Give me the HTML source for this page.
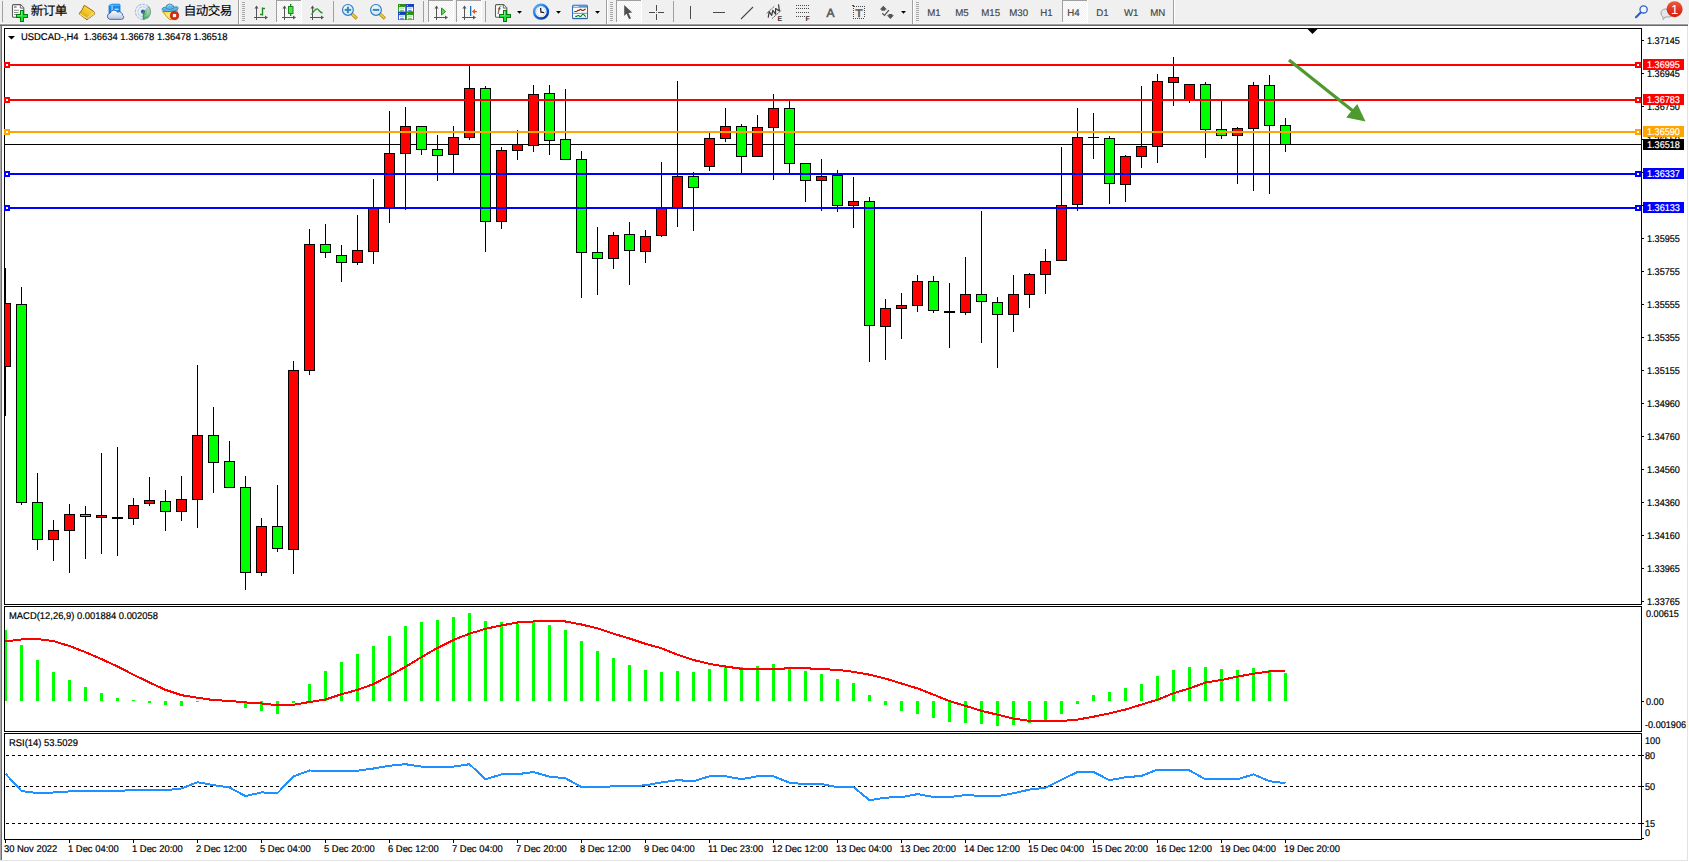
<!DOCTYPE html>
<html lang="zh-CN">
<head>
<meta charset="utf-8">
<title>USDCAD-,H4</title>
<style>
html,body{margin:0;padding:0;background:#fff;}
body{width:1689px;height:862px;overflow:hidden;}
svg{display:block;position:absolute;left:0;top:0;}
svg text{font-family:"Liberation Sans","Noto Sans CJK SC",sans-serif;white-space:pre;text-rendering:geometricPrecision;}
</style>
</head>
<body>
<svg width="1689" height="862" viewBox="0 0 1689 862">
<rect x="0" y="0" width="1689" height="862" fill="#fff"/>
<rect x="0" y="26" width="1" height="835" fill="#a9a9a9"/>
<rect x="1" y="26" width="1" height="835" fill="#6f6f6f"/>
<rect x="1687" y="26" width="1" height="835" fill="#e3e3e3"/>
<rect x="0" y="860" width="1688" height="1" fill="#e3e3e3"/>
<g fill="none" stroke="#000" stroke-width="1" shape-rendering="crispEdges">
<rect x="4.5" y="28.5" width="1637" height="576"/>
<rect x="4.5" y="606.5" width="1637" height="125"/>
<rect x="4.5" y="733.5" width="1637" height="106"/>
</g>
<g class="ax">
<rect x="1642" y="40" width="2" height="1" fill="#000"/>
<text transform="translate(1647,44) scale(0.93,1)" font-size="9.8" fill="#000" stroke="#000" stroke-width="0.2">1.37145</text>
<rect x="1642" y="73" width="2" height="1" fill="#000"/>
<text transform="translate(1647,77) scale(0.93,1)" font-size="9.8" fill="#000" stroke="#000" stroke-width="0.2">1.36945</text>
<rect x="1642" y="106" width="2" height="1" fill="#000"/>
<text transform="translate(1647,110) scale(0.93,1)" font-size="9.8" fill="#000" stroke="#000" stroke-width="0.2">1.36750</text>
<rect x="1642" y="139" width="2" height="1" fill="#000"/>
<text transform="translate(1647,143) scale(0.93,1)" font-size="9.8" fill="#000" stroke="#000" stroke-width="0.2">1.36550</text>
<rect x="1642" y="172" width="2" height="1" fill="#000"/>
<rect x="1642" y="205" width="2" height="1" fill="#000"/>
<rect x="1642" y="238" width="2" height="1" fill="#000"/>
<text transform="translate(1647,242) scale(0.93,1)" font-size="9.8" fill="#000" stroke="#000" stroke-width="0.2">1.35955</text>
<rect x="1642" y="271" width="2" height="1" fill="#000"/>
<text transform="translate(1647,275) scale(0.93,1)" font-size="9.8" fill="#000" stroke="#000" stroke-width="0.2">1.35755</text>
<rect x="1642" y="304" width="2" height="1" fill="#000"/>
<text transform="translate(1647,308) scale(0.93,1)" font-size="9.8" fill="#000" stroke="#000" stroke-width="0.2">1.35555</text>
<rect x="1642" y="337" width="2" height="1" fill="#000"/>
<text transform="translate(1647,341) scale(0.93,1)" font-size="9.8" fill="#000" stroke="#000" stroke-width="0.2">1.35355</text>
<rect x="1642" y="370" width="2" height="1" fill="#000"/>
<text transform="translate(1647,374) scale(0.93,1)" font-size="9.8" fill="#000" stroke="#000" stroke-width="0.2">1.35155</text>
<rect x="1642" y="403" width="2" height="1" fill="#000"/>
<text transform="translate(1647,407) scale(0.93,1)" font-size="9.8" fill="#000" stroke="#000" stroke-width="0.2">1.34960</text>
<rect x="1642" y="436" width="2" height="1" fill="#000"/>
<text transform="translate(1647,440) scale(0.93,1)" font-size="9.8" fill="#000" stroke="#000" stroke-width="0.2">1.34760</text>
<rect x="1642" y="469" width="2" height="1" fill="#000"/>
<text transform="translate(1647,473) scale(0.93,1)" font-size="9.8" fill="#000" stroke="#000" stroke-width="0.2">1.34560</text>
<rect x="1642" y="502" width="2" height="1" fill="#000"/>
<text transform="translate(1647,506) scale(0.93,1)" font-size="9.8" fill="#000" stroke="#000" stroke-width="0.2">1.34360</text>
<rect x="1642" y="535" width="2" height="1" fill="#000"/>
<text transform="translate(1647,539) scale(0.93,1)" font-size="9.8" fill="#000" stroke="#000" stroke-width="0.2">1.34160</text>
<rect x="1642" y="568" width="2" height="1" fill="#000"/>
<text transform="translate(1647,572) scale(0.93,1)" font-size="9.8" fill="#000" stroke="#000" stroke-width="0.2">1.33965</text>
<rect x="1642" y="601" width="2" height="1" fill="#000"/>
<text transform="translate(1647,605) scale(0.93,1)" font-size="9.8" fill="#000" stroke="#000" stroke-width="0.2">1.33765</text>
</g>
<rect x="5" y="144" width="1637" height="1" fill="#000"/>
<g shape-rendering="crispEdges">
<rect x="5" y="268" width="1" height="148" fill="#000"/>
<rect x="5" y="303" width="6" height="64" fill="#000"/>
<rect x="5" y="304" width="5" height="62" fill="#f00"/>
<rect x="21" y="287" width="1" height="218" fill="#000"/>
<rect x="16" y="304" width="11" height="199" fill="#000"/>
<rect x="17" y="305" width="9" height="197" fill="#0f0"/>
<rect x="37" y="473" width="1" height="77" fill="#000"/>
<rect x="32" y="502" width="11" height="38" fill="#000"/>
<rect x="33" y="503" width="9" height="36" fill="#0f0"/>
<rect x="53" y="520" width="1" height="41" fill="#000"/>
<rect x="48" y="530" width="11" height="10" fill="#000"/>
<rect x="49" y="531" width="9" height="8" fill="#f00"/>
<rect x="69" y="504" width="1" height="69" fill="#000"/>
<rect x="64" y="514" width="11" height="17" fill="#000"/>
<rect x="65" y="515" width="9" height="15" fill="#f00"/>
<rect x="85" y="506" width="1" height="53" fill="#000"/>
<rect x="80" y="514" width="11" height="3" fill="#000"/>
<rect x="81" y="515" width="9" height="1" fill="#0f0"/>
<rect x="101" y="453" width="1" height="101" fill="#000"/>
<rect x="96" y="515" width="11" height="3" fill="#000"/>
<rect x="97" y="516" width="9" height="1" fill="#f00"/>
<rect x="117" y="447" width="1" height="109" fill="#000"/>
<rect x="112" y="517" width="11" height="2" fill="#000"/>
<rect x="133" y="498" width="1" height="27" fill="#000"/>
<rect x="128" y="505" width="11" height="14" fill="#000"/>
<rect x="129" y="506" width="9" height="12" fill="#f00"/>
<rect x="149" y="477" width="1" height="29" fill="#000"/>
<rect x="144" y="500" width="11" height="4" fill="#000"/>
<rect x="145" y="501" width="9" height="2" fill="#f00"/>
<rect x="165" y="490" width="1" height="41" fill="#000"/>
<rect x="160" y="501" width="11" height="11" fill="#000"/>
<rect x="161" y="502" width="9" height="9" fill="#0f0"/>
<rect x="181" y="476" width="1" height="45" fill="#000"/>
<rect x="176" y="499" width="11" height="13" fill="#000"/>
<rect x="177" y="500" width="9" height="11" fill="#f00"/>
<rect x="197" y="365" width="1" height="163" fill="#000"/>
<rect x="192" y="435" width="11" height="65" fill="#000"/>
<rect x="193" y="436" width="9" height="63" fill="#f00"/>
<rect x="213" y="407" width="1" height="86" fill="#000"/>
<rect x="208" y="435" width="11" height="28" fill="#000"/>
<rect x="209" y="436" width="9" height="26" fill="#0f0"/>
<rect x="229" y="441" width="1" height="47" fill="#000"/>
<rect x="224" y="461" width="11" height="27" fill="#000"/>
<rect x="225" y="462" width="9" height="25" fill="#0f0"/>
<rect x="245" y="476" width="1" height="114" fill="#000"/>
<rect x="240" y="487" width="11" height="86" fill="#000"/>
<rect x="241" y="488" width="9" height="84" fill="#0f0"/>
<rect x="261" y="518" width="1" height="58" fill="#000"/>
<rect x="256" y="526" width="11" height="47" fill="#000"/>
<rect x="257" y="527" width="9" height="45" fill="#f00"/>
<rect x="277" y="485" width="1" height="67" fill="#000"/>
<rect x="272" y="526" width="11" height="23" fill="#000"/>
<rect x="273" y="527" width="9" height="21" fill="#0f0"/>
<rect x="293" y="361" width="1" height="213" fill="#000"/>
<rect x="288" y="370" width="11" height="180" fill="#000"/>
<rect x="289" y="371" width="9" height="178" fill="#f00"/>
<rect x="309" y="229" width="1" height="146" fill="#000"/>
<rect x="304" y="244" width="11" height="127" fill="#000"/>
<rect x="305" y="245" width="9" height="125" fill="#f00"/>
<rect x="325" y="224" width="1" height="34" fill="#000"/>
<rect x="320" y="244" width="11" height="9" fill="#000"/>
<rect x="321" y="245" width="9" height="7" fill="#0f0"/>
<rect x="341" y="245" width="1" height="37" fill="#000"/>
<rect x="336" y="255" width="11" height="8" fill="#000"/>
<rect x="337" y="256" width="9" height="6" fill="#0f0"/>
<rect x="357" y="215" width="1" height="50" fill="#000"/>
<rect x="352" y="250" width="11" height="13" fill="#000"/>
<rect x="353" y="251" width="9" height="11" fill="#f00"/>
<rect x="373" y="179" width="1" height="85" fill="#000"/>
<rect x="368" y="208" width="11" height="44" fill="#000"/>
<rect x="369" y="209" width="9" height="42" fill="#f00"/>
<rect x="389" y="111" width="1" height="112" fill="#000"/>
<rect x="384" y="153" width="11" height="55" fill="#000"/>
<rect x="385" y="154" width="9" height="53" fill="#f00"/>
<rect x="405" y="107" width="1" height="103" fill="#000"/>
<rect x="400" y="126" width="11" height="28" fill="#000"/>
<rect x="401" y="127" width="9" height="26" fill="#f00"/>
<rect x="421" y="126" width="1" height="29" fill="#000"/>
<rect x="416" y="126" width="11" height="24" fill="#000"/>
<rect x="417" y="127" width="9" height="22" fill="#0f0"/>
<rect x="437" y="135" width="1" height="46" fill="#000"/>
<rect x="432" y="149" width="11" height="7" fill="#000"/>
<rect x="433" y="150" width="9" height="5" fill="#0f0"/>
<rect x="453" y="126" width="1" height="47" fill="#000"/>
<rect x="448" y="137" width="11" height="18" fill="#000"/>
<rect x="449" y="138" width="9" height="16" fill="#f00"/>
<rect x="469" y="66" width="1" height="74" fill="#000"/>
<rect x="464" y="88" width="11" height="50" fill="#000"/>
<rect x="465" y="89" width="9" height="48" fill="#f00"/>
<rect x="485" y="86" width="1" height="166" fill="#000"/>
<rect x="480" y="88" width="11" height="134" fill="#000"/>
<rect x="481" y="89" width="9" height="132" fill="#0f0"/>
<rect x="501" y="147" width="1" height="82" fill="#000"/>
<rect x="496" y="150" width="11" height="72" fill="#000"/>
<rect x="497" y="151" width="9" height="70" fill="#f00"/>
<rect x="517" y="130" width="1" height="30" fill="#000"/>
<rect x="512" y="144" width="11" height="7" fill="#000"/>
<rect x="513" y="145" width="9" height="5" fill="#f00"/>
<rect x="533" y="85" width="1" height="67" fill="#000"/>
<rect x="528" y="94" width="11" height="52" fill="#000"/>
<rect x="529" y="95" width="9" height="50" fill="#f00"/>
<rect x="549" y="85" width="1" height="70" fill="#000"/>
<rect x="544" y="93" width="11" height="48" fill="#000"/>
<rect x="545" y="94" width="9" height="46" fill="#0f0"/>
<rect x="565" y="89" width="1" height="71" fill="#000"/>
<rect x="560" y="139" width="11" height="21" fill="#000"/>
<rect x="561" y="140" width="9" height="19" fill="#0f0"/>
<rect x="581" y="151" width="1" height="147" fill="#000"/>
<rect x="576" y="159" width="11" height="94" fill="#000"/>
<rect x="577" y="160" width="9" height="92" fill="#0f0"/>
<rect x="597" y="227" width="1" height="68" fill="#000"/>
<rect x="592" y="252" width="11" height="7" fill="#000"/>
<rect x="593" y="253" width="9" height="5" fill="#0f0"/>
<rect x="613" y="232" width="1" height="37" fill="#000"/>
<rect x="608" y="235" width="11" height="24" fill="#000"/>
<rect x="609" y="236" width="9" height="22" fill="#f00"/>
<rect x="629" y="222" width="1" height="63" fill="#000"/>
<rect x="624" y="234" width="11" height="17" fill="#000"/>
<rect x="625" y="235" width="9" height="15" fill="#0f0"/>
<rect x="645" y="230" width="1" height="33" fill="#000"/>
<rect x="640" y="236" width="11" height="16" fill="#000"/>
<rect x="641" y="237" width="9" height="14" fill="#f00"/>
<rect x="661" y="162" width="1" height="75" fill="#000"/>
<rect x="656" y="208" width="11" height="28" fill="#000"/>
<rect x="657" y="209" width="9" height="26" fill="#f00"/>
<rect x="677" y="81" width="1" height="146" fill="#000"/>
<rect x="672" y="176" width="11" height="32" fill="#000"/>
<rect x="673" y="177" width="9" height="30" fill="#f00"/>
<rect x="693" y="172" width="1" height="59" fill="#000"/>
<rect x="688" y="176" width="11" height="12" fill="#000"/>
<rect x="689" y="177" width="9" height="10" fill="#0f0"/>
<rect x="709" y="133" width="1" height="38" fill="#000"/>
<rect x="704" y="138" width="11" height="29" fill="#000"/>
<rect x="705" y="139" width="9" height="27" fill="#f00"/>
<rect x="725" y="108" width="1" height="34" fill="#000"/>
<rect x="720" y="126" width="11" height="13" fill="#000"/>
<rect x="721" y="127" width="9" height="11" fill="#f00"/>
<rect x="741" y="124" width="1" height="49" fill="#000"/>
<rect x="736" y="126" width="11" height="31" fill="#000"/>
<rect x="737" y="127" width="9" height="29" fill="#0f0"/>
<rect x="757" y="115" width="1" height="42" fill="#000"/>
<rect x="752" y="127" width="11" height="30" fill="#000"/>
<rect x="753" y="128" width="9" height="28" fill="#f00"/>
<rect x="773" y="94" width="1" height="86" fill="#000"/>
<rect x="768" y="108" width="11" height="20" fill="#000"/>
<rect x="769" y="109" width="9" height="18" fill="#f00"/>
<rect x="789" y="101" width="1" height="72" fill="#000"/>
<rect x="784" y="108" width="11" height="56" fill="#000"/>
<rect x="785" y="109" width="9" height="54" fill="#0f0"/>
<rect x="805" y="163" width="1" height="39" fill="#000"/>
<rect x="800" y="163" width="11" height="18" fill="#000"/>
<rect x="801" y="164" width="9" height="16" fill="#0f0"/>
<rect x="821" y="159" width="1" height="52" fill="#000"/>
<rect x="816" y="176" width="11" height="5" fill="#000"/>
<rect x="817" y="177" width="9" height="3" fill="#f00"/>
<rect x="837" y="170" width="1" height="42" fill="#000"/>
<rect x="832" y="175" width="11" height="31" fill="#000"/>
<rect x="833" y="176" width="9" height="29" fill="#0f0"/>
<rect x="853" y="177" width="1" height="51" fill="#000"/>
<rect x="848" y="201" width="11" height="5" fill="#000"/>
<rect x="849" y="202" width="9" height="3" fill="#f00"/>
<rect x="869" y="197" width="1" height="165" fill="#000"/>
<rect x="864" y="201" width="11" height="125" fill="#000"/>
<rect x="865" y="202" width="9" height="123" fill="#0f0"/>
<rect x="885" y="299" width="1" height="61" fill="#000"/>
<rect x="880" y="308" width="11" height="19" fill="#000"/>
<rect x="881" y="309" width="9" height="17" fill="#f00"/>
<rect x="901" y="293" width="1" height="46" fill="#000"/>
<rect x="896" y="305" width="11" height="4" fill="#000"/>
<rect x="897" y="306" width="9" height="2" fill="#f00"/>
<rect x="917" y="275" width="1" height="37" fill="#000"/>
<rect x="912" y="281" width="11" height="25" fill="#000"/>
<rect x="913" y="282" width="9" height="23" fill="#f00"/>
<rect x="933" y="276" width="1" height="37" fill="#000"/>
<rect x="928" y="281" width="11" height="30" fill="#000"/>
<rect x="929" y="282" width="9" height="28" fill="#0f0"/>
<rect x="949" y="283" width="1" height="65" fill="#000"/>
<rect x="944" y="311" width="11" height="2" fill="#000"/>
<rect x="965" y="257" width="1" height="58" fill="#000"/>
<rect x="960" y="294" width="11" height="19" fill="#000"/>
<rect x="961" y="295" width="9" height="17" fill="#f00"/>
<rect x="981" y="211" width="1" height="132" fill="#000"/>
<rect x="976" y="294" width="11" height="8" fill="#000"/>
<rect x="977" y="295" width="9" height="6" fill="#0f0"/>
<rect x="997" y="297" width="1" height="71" fill="#000"/>
<rect x="992" y="302" width="11" height="13" fill="#000"/>
<rect x="993" y="303" width="9" height="11" fill="#0f0"/>
<rect x="1013" y="275" width="1" height="57" fill="#000"/>
<rect x="1008" y="294" width="11" height="21" fill="#000"/>
<rect x="1009" y="295" width="9" height="19" fill="#f00"/>
<rect x="1029" y="273" width="1" height="35" fill="#000"/>
<rect x="1024" y="274" width="11" height="21" fill="#000"/>
<rect x="1025" y="275" width="9" height="19" fill="#f00"/>
<rect x="1045" y="249" width="1" height="45" fill="#000"/>
<rect x="1040" y="261" width="11" height="14" fill="#000"/>
<rect x="1041" y="262" width="9" height="12" fill="#f00"/>
<rect x="1061" y="147" width="1" height="114" fill="#000"/>
<rect x="1056" y="205" width="11" height="56" fill="#000"/>
<rect x="1057" y="206" width="9" height="54" fill="#f00"/>
<rect x="1077" y="108" width="1" height="103" fill="#000"/>
<rect x="1072" y="137" width="11" height="68" fill="#000"/>
<rect x="1073" y="138" width="9" height="66" fill="#f00"/>
<rect x="1093" y="113" width="1" height="46" fill="#000"/>
<rect x="1088" y="137" width="11" height="1" fill="#000"/>
<rect x="1109" y="136" width="1" height="68" fill="#000"/>
<rect x="1104" y="138" width="11" height="46" fill="#000"/>
<rect x="1105" y="139" width="9" height="44" fill="#0f0"/>
<rect x="1125" y="155" width="1" height="47" fill="#000"/>
<rect x="1120" y="156" width="11" height="29" fill="#000"/>
<rect x="1121" y="157" width="9" height="27" fill="#f00"/>
<rect x="1141" y="86" width="1" height="82" fill="#000"/>
<rect x="1136" y="146" width="11" height="11" fill="#000"/>
<rect x="1137" y="147" width="9" height="9" fill="#f00"/>
<rect x="1157" y="74" width="1" height="89" fill="#000"/>
<rect x="1152" y="81" width="11" height="66" fill="#000"/>
<rect x="1153" y="82" width="9" height="64" fill="#f00"/>
<rect x="1173" y="57" width="1" height="49" fill="#000"/>
<rect x="1168" y="77" width="11" height="6" fill="#000"/>
<rect x="1169" y="78" width="9" height="4" fill="#f00"/>
<rect x="1189" y="84" width="1" height="19" fill="#000"/>
<rect x="1184" y="84" width="11" height="16" fill="#000"/>
<rect x="1185" y="85" width="9" height="14" fill="#f00"/>
<rect x="1205" y="82" width="1" height="76" fill="#000"/>
<rect x="1200" y="84" width="11" height="46" fill="#000"/>
<rect x="1201" y="85" width="9" height="44" fill="#0f0"/>
<rect x="1221" y="101" width="1" height="38" fill="#000"/>
<rect x="1216" y="129" width="11" height="7" fill="#000"/>
<rect x="1217" y="130" width="9" height="5" fill="#0f0"/>
<rect x="1237" y="127" width="1" height="57" fill="#000"/>
<rect x="1232" y="128" width="11" height="8" fill="#000"/>
<rect x="1233" y="129" width="9" height="6" fill="#f00"/>
<rect x="1253" y="82" width="1" height="109" fill="#000"/>
<rect x="1248" y="85" width="11" height="44" fill="#000"/>
<rect x="1249" y="86" width="9" height="42" fill="#f00"/>
<rect x="1269" y="75" width="1" height="119" fill="#000"/>
<rect x="1264" y="85" width="11" height="41" fill="#000"/>
<rect x="1265" y="86" width="9" height="39" fill="#0f0"/>
<rect x="1285" y="118" width="1" height="34" fill="#000"/>
<rect x="1280" y="125" width="11" height="20" fill="#000"/>
<rect x="1281" y="126" width="9" height="18" fill="#0f0"/>
</g>
<g shape-rendering="crispEdges">
<rect x="5" y="64" width="1636" height="2" fill="#f00"/>
<rect x="4" y="62" width="6" height="6" fill="#f00"/>
<rect x="6" y="64" width="2" height="2" fill="#fff"/>
<rect x="1635" y="62" width="6" height="6" fill="#f00"/>
<rect x="1637" y="64" width="2" height="2" fill="#fff"/>
<rect x="5" y="99" width="1636" height="2" fill="#f00"/>
<rect x="4" y="97" width="6" height="6" fill="#f00"/>
<rect x="6" y="99" width="2" height="2" fill="#fff"/>
<rect x="1635" y="97" width="6" height="6" fill="#f00"/>
<rect x="1637" y="99" width="2" height="2" fill="#fff"/>
<rect x="5" y="131" width="1636" height="2" fill="#ffa500"/>
<rect x="4" y="129" width="6" height="6" fill="#ffa500"/>
<rect x="6" y="131" width="2" height="2" fill="#fff"/>
<rect x="1635" y="129" width="6" height="6" fill="#ffa500"/>
<rect x="1637" y="131" width="2" height="2" fill="#fff"/>
<rect x="5" y="173" width="1636" height="2" fill="#00f"/>
<rect x="4" y="171" width="6" height="6" fill="#00f"/>
<rect x="6" y="173" width="2" height="2" fill="#fff"/>
<rect x="1635" y="171" width="6" height="6" fill="#00f"/>
<rect x="1637" y="173" width="2" height="2" fill="#fff"/>
<rect x="5" y="207" width="1636" height="2" fill="#00f"/>
<rect x="4" y="205" width="6" height="6" fill="#00f"/>
<rect x="6" y="207" width="2" height="2" fill="#fff"/>
<rect x="1635" y="205" width="6" height="6" fill="#00f"/>
<rect x="1637" y="207" width="2" height="2" fill="#fff"/>
</g>
<rect x="1643" y="59" width="41" height="11" fill="#f00"/>
<text transform="translate(1647,68) scale(0.93,1)" font-size="9.8" fill="#fff" stroke="#fff" stroke-width="0.2">1.36995</text>
<rect x="1643" y="94" width="41" height="11" fill="#f00"/>
<text transform="translate(1647,103) scale(0.93,1)" font-size="9.8" fill="#fff" stroke="#fff" stroke-width="0.2">1.36783</text>
<rect x="1643" y="126" width="41" height="11" fill="#ffa500"/>
<text transform="translate(1647,135) scale(0.93,1)" font-size="9.8" fill="#fff" stroke="#fff" stroke-width="0.2">1.36590</text>
<rect x="1643" y="168" width="41" height="11" fill="#00f"/>
<text transform="translate(1647,177) scale(0.93,1)" font-size="9.8" fill="#fff" stroke="#fff" stroke-width="0.2">1.36337</text>
<rect x="1643" y="202" width="41" height="11" fill="#00f"/>
<text transform="translate(1647,211) scale(0.93,1)" font-size="9.8" fill="#fff" stroke="#fff" stroke-width="0.2">1.36133</text>
<rect x="1643" y="139" width="41" height="11" fill="#000"/>
<text transform="translate(1647,148) scale(0.93,1)" font-size="9.8" fill="#fff" stroke="#fff" stroke-width="0.2">1.36518</text>
<line x1="1289" y1="60" x2="1353" y2="111" stroke="#4e9a2e" stroke-width="3.2"/>
<polygon points="1357.2,104 1346.2,117.5 1365.5,121.5" fill="#4e9a2e"/>
<polygon points="8,36 15,36 11.5,39.6" fill="#000"/>
<text transform="translate(21,40) scale(0.96,1)" font-size="9.8" fill="#000" stroke="#000" stroke-width="0.2">USDCAD-,H4&#160;&#160;1.36634 1.36678 1.36478 1.36518</text>
<polygon points="1307.5,29 1317.5,29 1312.5,34" fill="#000"/>
<g shape-rendering="crispEdges" fill="#0f0">
<rect x="5" y="630" width="2" height="71"/>
<rect x="20" y="645" width="3" height="56"/>
<rect x="36" y="660" width="3" height="41"/>
<rect x="52" y="672" width="3" height="29"/>
<rect x="68" y="680" width="3" height="21"/>
<rect x="84" y="687" width="3" height="14"/>
<rect x="100" y="693" width="3" height="8"/>
<rect x="116" y="698" width="3" height="3"/>
<rect x="132" y="700" width="3" height="1"/>
<rect x="148" y="701" width="3" height="2"/>
<rect x="164" y="701" width="3" height="4"/>
<rect x="180" y="701" width="3" height="5"/>
<rect x="196" y="701" width="3" height="1"/>
<rect x="212" y="700" width="3" height="1"/>
<rect x="228" y="701" width="3" height="1"/>
<rect x="244" y="701" width="3" height="7"/>
<rect x="260" y="701" width="3" height="10"/>
<rect x="276" y="701" width="3" height="13"/>
<rect x="292" y="701" width="3" height="2"/>
<rect x="308" y="684" width="3" height="17"/>
<rect x="324" y="671" width="3" height="30"/>
<rect x="340" y="662" width="3" height="39"/>
<rect x="356" y="654" width="3" height="47"/>
<rect x="372" y="646" width="3" height="55"/>
<rect x="388" y="636" width="3" height="65"/>
<rect x="404" y="626" width="3" height="75"/>
<rect x="420" y="622" width="3" height="79"/>
<rect x="436" y="620" width="3" height="81"/>
<rect x="452" y="617" width="3" height="84"/>
<rect x="468" y="613" width="3" height="88"/>
<rect x="484" y="621" width="3" height="80"/>
<rect x="500" y="622" width="3" height="79"/>
<rect x="516" y="624" width="3" height="77"/>
<rect x="532" y="622" width="3" height="79"/>
<rect x="548" y="625" width="3" height="76"/>
<rect x="564" y="630" width="3" height="71"/>
<rect x="580" y="641" width="3" height="60"/>
<rect x="596" y="651" width="3" height="50"/>
<rect x="612" y="658" width="3" height="43"/>
<rect x="628" y="665" width="3" height="36"/>
<rect x="644" y="670" width="3" height="31"/>
<rect x="660" y="672" width="3" height="29"/>
<rect x="676" y="671" width="3" height="30"/>
<rect x="692" y="672" width="3" height="29"/>
<rect x="708" y="669" width="3" height="32"/>
<rect x="724" y="667" width="3" height="34"/>
<rect x="740" y="667" width="3" height="34"/>
<rect x="756" y="666" width="3" height="35"/>
<rect x="772" y="664" width="3" height="37"/>
<rect x="788" y="667" width="3" height="34"/>
<rect x="804" y="671" width="3" height="30"/>
<rect x="820" y="674" width="3" height="27"/>
<rect x="836" y="679" width="3" height="22"/>
<rect x="852" y="683" width="3" height="18"/>
<rect x="868" y="695" width="3" height="6"/>
<rect x="884" y="701" width="3" height="4"/>
<rect x="900" y="701" width="3" height="10"/>
<rect x="916" y="701" width="3" height="13"/>
<rect x="932" y="701" width="3" height="17"/>
<rect x="948" y="701" width="3" height="21"/>
<rect x="964" y="701" width="3" height="22"/>
<rect x="980" y="701" width="3" height="23"/>
<rect x="996" y="701" width="3" height="25"/>
<rect x="1012" y="701" width="3" height="24"/>
<rect x="1028" y="701" width="3" height="22"/>
<rect x="1044" y="701" width="3" height="19"/>
<rect x="1060" y="701" width="3" height="13"/>
<rect x="1076" y="701" width="3" height="3"/>
<rect x="1092" y="695" width="3" height="6"/>
<rect x="1108" y="692" width="3" height="9"/>
<rect x="1124" y="688" width="3" height="13"/>
<rect x="1140" y="684" width="3" height="17"/>
<rect x="1156" y="676" width="3" height="25"/>
<rect x="1172" y="670" width="3" height="31"/>
<rect x="1188" y="667" width="3" height="34"/>
<rect x="1204" y="667" width="3" height="34"/>
<rect x="1220" y="669" width="3" height="32"/>
<rect x="1236" y="670" width="3" height="31"/>
<rect x="1252" y="668" width="3" height="33"/>
<rect x="1268" y="670" width="3" height="31"/>
<rect x="1284" y="673" width="3" height="28"/>
</g>
<polyline points="5.5,641.5 21.5,639.5 37.5,639.1 53.5,641.1 69.5,646.0 85.5,652.2 101.5,659.1 117.5,666.5 133.5,674.7 149.5,682.5 165.5,689.9 181.5,695.2 197.5,697.7 213.5,700.1 229.5,700.9 245.5,702.4 261.5,703.4 277.5,705.2 293.5,704.8 309.5,702.0 325.5,699.5 341.5,694.2 357.5,689.9 373.5,684.1 389.5,675.7 405.5,666.9 421.5,657.1 437.5,647.9 453.5,639.9 469.5,633.7 485.5,628.8 501.5,625.4 517.5,622.5 533.5,621.5 549.5,621.1 565.5,621.5 581.5,624.5 597.5,628.4 613.5,633.7 629.5,638.5 645.5,643.8 661.5,648.3 677.5,654.8 693.5,660.0 709.5,663.9 725.5,666.5 741.5,668.8 757.5,669.2 773.5,669.2 789.5,668.2 805.5,668.2 821.5,669.2 837.5,669.8 853.5,671.8 869.5,674.7 885.5,678.6 901.5,683.5 917.5,688.4 933.5,694.6 949.5,701.1 965.5,705.9 981.5,710.8 997.5,714.7 1013.5,718.6 1029.5,720.8 1045.5,721.0 1061.5,721.0 1077.5,719.6 1093.5,716.7 1109.5,713.4 1125.5,709.5 1141.5,704.6 1157.5,699.7 1173.5,693.2 1189.5,688.4 1205.5,682.5 1221.5,680.0 1237.5,676.6 1253.5,673.7 1269.5,671.4 1285.5,671.2" fill="none" stroke="#f00" stroke-width="2" stroke-linejoin="round" shape-rendering="crispEdges"/>
<text transform="translate(9,619) scale(0.96,1)" font-size="9.8" fill="#000" stroke="#000" stroke-width="0.2">MACD(12,26,9) 0.001884 0.002058</text>
<text transform="translate(1646,617) scale(0.93,1)" font-size="9.8" fill="#000" stroke="#000" stroke-width="0.2">0.00615</text>
<rect x="1642" y="701" width="2" height="1" fill="#000"/>
<text transform="translate(1646,705) scale(0.93,1)" font-size="9.8" fill="#000" stroke="#000" stroke-width="0.2">0.00</text>
<text transform="translate(1645,728) scale(0.93,1)" font-size="9.8" fill="#000" stroke="#000" stroke-width="0.2">-0.001906</text>
<g shape-rendering="crispEdges" stroke="#000" stroke-width="1" stroke-dasharray="3 3">
<line x1="6" y1="755.5" x2="1641" y2="755.5"/>
<line x1="6" y1="786.5" x2="1641" y2="786.5"/>
<line x1="6" y1="823.5" x2="1641" y2="823.5"/>
</g>
<polyline points="5.5,773.8 21.5,791.0 37.5,793.1 53.5,792.5 69.5,791.4 85.5,791.4 101.5,791.4 117.5,791.4 133.5,789.6 149.5,789.8 165.5,790.2 181.5,788.4 197.5,782.2 213.5,785.1 229.5,787.5 245.5,796.1 261.5,792.4 277.5,793.1 293.5,776.3 309.5,770.5 325.5,770.7 341.5,771.1 357.5,770.7 373.5,768.5 389.5,765.8 405.5,764.2 421.5,766.6 437.5,767.0 453.5,766.6 469.5,764.2 485.5,779.3 501.5,774.4 517.5,774.2 533.5,772.0 549.5,776.7 565.5,778.3 581.5,787.1 597.5,787.3 613.5,786.3 629.5,786.3 645.5,785.3 661.5,782.4 677.5,780.2 693.5,781.2 709.5,776.3 725.5,776.3 741.5,779.1 757.5,776.3 773.5,776.3 789.5,782.8 805.5,784.1 821.5,784.1 837.5,787.1 853.5,787.1 869.5,800.2 885.5,797.6 901.5,797.2 917.5,794.1 933.5,797.0 949.5,797.0 965.5,795.1 981.5,795.9 997.5,796.1 1013.5,793.3 1029.5,789.6 1045.5,787.7 1061.5,779.7 1077.5,772.0 1093.5,772.0 1109.5,780.2 1125.5,777.3 1141.5,775.9 1157.5,769.5 1173.5,769.5 1189.5,770.5 1205.5,779.3 1221.5,779.3 1237.5,779.3 1253.5,774.4 1269.5,781.2 1285.5,783.2" fill="none" stroke="#1e90ff" stroke-width="2" stroke-linejoin="round" shape-rendering="crispEdges"/>
<text transform="translate(9,746) scale(0.96,1)" font-size="9.8" fill="#000" stroke="#000" stroke-width="0.2">RSI(14) 53.5029</text>
<text transform="translate(1645,744) scale(0.93,1)" font-size="9.8" fill="#000" stroke="#000" stroke-width="0.2">100</text>
<text transform="translate(1645,759) scale(0.93,1)" font-size="9.8" fill="#000" stroke="#000" stroke-width="0.2">80</text>
<text transform="translate(1645,790) scale(0.93,1)" font-size="9.8" fill="#000" stroke="#000" stroke-width="0.2">50</text>
<text transform="translate(1645,827) scale(0.93,1)" font-size="9.8" fill="#000" stroke="#000" stroke-width="0.2">15</text>
<text transform="translate(1645,836) scale(0.93,1)" font-size="9.8" fill="#000" stroke="#000" stroke-width="0.2">0</text>
<rect x="1642" y="755" width="2" height="1" fill="#000"/>
<rect x="1642" y="786" width="2" height="1" fill="#000"/>
<rect x="1642" y="823" width="2" height="1" fill="#000"/>
<rect x="1642" y="838" width="2" height="1" fill="#000"/>
<rect x="5" y="840" width="1" height="3" fill="#000"/>
<text transform="translate(4,852) scale(0.96,1)" font-size="9.8" fill="#000" stroke="#000" stroke-width="0.2">30 Nov 2022</text>
<rect x="69" y="840" width="1" height="3" fill="#000"/>
<text transform="translate(68,852) scale(0.96,1)" font-size="9.8" fill="#000" stroke="#000" stroke-width="0.2">1 Dec 04:00</text>
<rect x="133" y="840" width="1" height="3" fill="#000"/>
<text transform="translate(132,852) scale(0.96,1)" font-size="9.8" fill="#000" stroke="#000" stroke-width="0.2">1 Dec 20:00</text>
<rect x="197" y="840" width="1" height="3" fill="#000"/>
<text transform="translate(196,852) scale(0.96,1)" font-size="9.8" fill="#000" stroke="#000" stroke-width="0.2">2 Dec 12:00</text>
<rect x="261" y="840" width="1" height="3" fill="#000"/>
<text transform="translate(260,852) scale(0.96,1)" font-size="9.8" fill="#000" stroke="#000" stroke-width="0.2">5 Dec 04:00</text>
<rect x="325" y="840" width="1" height="3" fill="#000"/>
<text transform="translate(324,852) scale(0.96,1)" font-size="9.8" fill="#000" stroke="#000" stroke-width="0.2">5 Dec 20:00</text>
<rect x="389" y="840" width="1" height="3" fill="#000"/>
<text transform="translate(388,852) scale(0.96,1)" font-size="9.8" fill="#000" stroke="#000" stroke-width="0.2">6 Dec 12:00</text>
<rect x="453" y="840" width="1" height="3" fill="#000"/>
<text transform="translate(452,852) scale(0.96,1)" font-size="9.8" fill="#000" stroke="#000" stroke-width="0.2">7 Dec 04:00</text>
<rect x="517" y="840" width="1" height="3" fill="#000"/>
<text transform="translate(516,852) scale(0.96,1)" font-size="9.8" fill="#000" stroke="#000" stroke-width="0.2">7 Dec 20:00</text>
<rect x="581" y="840" width="1" height="3" fill="#000"/>
<text transform="translate(580,852) scale(0.96,1)" font-size="9.8" fill="#000" stroke="#000" stroke-width="0.2">8 Dec 12:00</text>
<rect x="645" y="840" width="1" height="3" fill="#000"/>
<text transform="translate(644,852) scale(0.96,1)" font-size="9.8" fill="#000" stroke="#000" stroke-width="0.2">9 Dec 04:00</text>
<rect x="709" y="840" width="1" height="3" fill="#000"/>
<text transform="translate(708,852) scale(0.96,1)" font-size="9.8" fill="#000" stroke="#000" stroke-width="0.2">11 Dec 23:00</text>
<rect x="773" y="840" width="1" height="3" fill="#000"/>
<text transform="translate(772,852) scale(0.96,1)" font-size="9.8" fill="#000" stroke="#000" stroke-width="0.2">12 Dec 12:00</text>
<rect x="837" y="840" width="1" height="3" fill="#000"/>
<text transform="translate(836,852) scale(0.96,1)" font-size="9.8" fill="#000" stroke="#000" stroke-width="0.2">13 Dec 04:00</text>
<rect x="901" y="840" width="1" height="3" fill="#000"/>
<text transform="translate(900,852) scale(0.96,1)" font-size="9.8" fill="#000" stroke="#000" stroke-width="0.2">13 Dec 20:00</text>
<rect x="965" y="840" width="1" height="3" fill="#000"/>
<text transform="translate(964,852) scale(0.96,1)" font-size="9.8" fill="#000" stroke="#000" stroke-width="0.2">14 Dec 12:00</text>
<rect x="1029" y="840" width="1" height="3" fill="#000"/>
<text transform="translate(1028,852) scale(0.96,1)" font-size="9.8" fill="#000" stroke="#000" stroke-width="0.2">15 Dec 04:00</text>
<rect x="1093" y="840" width="1" height="3" fill="#000"/>
<text transform="translate(1092,852) scale(0.96,1)" font-size="9.8" fill="#000" stroke="#000" stroke-width="0.2">15 Dec 20:00</text>
<rect x="1157" y="840" width="1" height="3" fill="#000"/>
<text transform="translate(1156,852) scale(0.96,1)" font-size="9.8" fill="#000" stroke="#000" stroke-width="0.2">16 Dec 12:00</text>
<rect x="1221" y="840" width="1" height="3" fill="#000"/>
<text transform="translate(1220,852) scale(0.96,1)" font-size="9.8" fill="#000" stroke="#000" stroke-width="0.2">19 Dec 04:00</text>
<rect x="1285" y="840" width="1" height="3" fill="#000"/>
<text transform="translate(1284,852) scale(0.96,1)" font-size="9.8" fill="#000" stroke="#000" stroke-width="0.2">19 Dec 20:00</text>
<g id="toolbar">
<defs><pattern id="chk" x="0" y="0" width="2" height="2" patternUnits="userSpaceOnUse"><rect width="2" height="2" fill="#f0f0f0"/><rect x="0" y="0" width="1" height="1" fill="#fff"/><rect x="1" y="1" width="1" height="1" fill="#fff"/></pattern></defs>
<rect x="0" y="0" width="1689" height="24" fill="#f0f0f0"/>
<rect x="0" y="23" width="1688" height="1" fill="#f6f6f6"/>
<rect x="0" y="24" width="1688" height="1" fill="#a0a0a0"/>
<rect x="0" y="25" width="1688" height="1" fill="#696969"/>
<rect x="2" y="1" width="1" height="21" fill="#a0a0a0"/>
<path d="M13.5,4.6 h7 l3.3,3.3 v8.3 a1,1 0 0 1 -1,1 h-9.3 a1,1 0 0 1 -1,-1 v-10.6 a1,1 0 0 1 1,-1 z" fill="#fff" stroke="#5c5c5c" stroke-width="1.1"/>
<path d="M20.3,4.8 v3.3 h3.3" fill="#ededed" stroke="#5c5c5c" stroke-width=".9"/>
<rect x="14" y="6.2" width="2.6" height="1.6" fill="#8c8c8c"/>
<g fill="#8a8a8a"><rect x="14" y="9.8" width="5" height="1"/><rect x="14" y="12" width="4.4" height="1"/><rect x="14" y="14" width="2.5" height="1"/></g>
<path d="M20,10 h4 v4 h4 v4 h-4 v4 h-4 v-4 h-4 v-4 h4 z" fill="#087a0c"/>
<path d="M21,11 h2 v4 h4 v2 h-4 v4 h-2 v-4 h-4 v-2 h4 z" fill="#1fe03c"/>
<path d="M21,11 h1 v4.6 h-5 v-.6 h4 z" fill="#8af5a0" opacity=".85"/>
<text x="30.8" y="15.3" font-size="12.6" letter-spacing="-.6" fill="#000" stroke="#000" stroke-width=".15">新订单</text>
<defs><linearGradient id="gold" x1="0.2" y1="1" x2="0.75" y2="0"><stop offset="0" stop-color="#c98a12"/><stop offset=".45" stop-color="#f0c21c"/><stop offset="1" stop-color="#f8e060"/></linearGradient><linearGradient id="cloud" x1="0" y1="0" x2="0" y2="1"><stop offset="0" stop-color="#ffffff"/><stop offset="1" stop-color="#b8c6de"/></linearGradient><linearGradient id="sweep" x1="0.1" y1="1" x2="0.9" y2="0"><stop offset="0" stop-color="#1f9a1f" stop-opacity="1"/><stop offset="1" stop-color="#a8d8a8" stop-opacity=".5"/></linearGradient><linearGradient id="funnel" x1="0" y1="0" x2="1" y2="1"><stop offset="0" stop-color="#f2c62a"/><stop offset=".5" stop-color="#fdf08a"/><stop offset="1" stop-color="#e8b418"/></linearGradient></defs>
<path d="M79.1,13.7 Q82.6,10 84.3,5.2 L93.7,11.4 L94.8,13.9 L86.9,19.8 Z" fill="url(#gold)" stroke="#a06a10" stroke-width="1" stroke-linejoin="round"/>
<path d="M80.2,14 L87,18.4" stroke="#f6e4a0" stroke-width="1.1" fill="none"/>
<path d="M93.9,12.3 L87.2,17.6 M94.4,13.6 L87.4,18.9" stroke="#efe3b0" stroke-width=".8" fill="none"/>
<path d="M109,5.4 L112,4.2 H119.6 L120,5 V13 H109 Z" fill="#0f8ef2" stroke="#0a74d8" stroke-width=".8"/>
<path d="M112.1,5.4 V13" stroke="#d8efff" stroke-width=".9"/>
<path d="M109.3,5.5 L112.1,5.2 H119.8" stroke="#7cc4fa" stroke-width=".8" fill="none"/>
<rect x="114.6" y="8.7" width="4" height="1.1" fill="#e8f6ff"/>
<path d="M109.8,19.3 a3.1,3.1 0 0 1 .4,-6.1 a4,4 0 0 1 7.4,-1 a3.3,3.3 0 0 1 4.9,3.1 a2.1,2.1 0 0 1 -.9,4 z" fill="url(#cloud)" stroke="#4a68a8" stroke-width="1" stroke-linejoin="round"/>
<path d="M142.9,11.7 L143.3,19.7 A8,8 0 0 0 148.5,5.999999999999999 Z" fill="url(#sweep)"/>
<g fill="none"><circle cx="142.9" cy="11.7" r="7.5" stroke="#8fb0e4" stroke-width="1.1" stroke-dasharray="3 .8" opacity=".75"/><circle cx="142.9" cy="11.7" r="4.9" stroke="#a5c0ea" stroke-width="1.1" stroke-dasharray="3 .7" opacity=".75"/><path d="M148.20000000000002,6.3999999999999995 A7.5,7.5 0 0 1 145.9,18.6" stroke="#5f9f7f" stroke-width="1.1" opacity=".7"/></g>
<circle cx="142.9" cy="11.7" r="2.1" fill="#2a5fd0"/>
<rect x="142.8" y="12.0" width="1.4" height="7.6" fill="#22a822"/>
<path d="M162.3,11.5 L177.7,10.8 L171.6,19.6 L169.4,19.6 Z" fill="url(#funnel)" stroke="#c89a18" stroke-width="1" stroke-linejoin="round"/>
<path d="M162.2,9.6 C162,6.6 166,7.6 166,7.2 C166.4,3.2 173.2,3.2 173.6,7 C174,7.6 178.2,5.6 178,8.4 C177.6,12.2 162.6,12.6 162.2,9.6 Z" fill="#62b4e4" stroke="#2a82b4" stroke-width="1"/>
<path d="M167.4,6.6 Q169,4.6 171.4,5.2" stroke="#a8dcf6" stroke-width="1" fill="none"/>
<path d="M165.6,8.4 Q169.8,10.6 174,8.2" stroke="#2a86b8" stroke-width=".8" fill="none"/>
<circle cx="174.5" cy="15.6" r="4.1" fill="#e02a10" stroke="#b41a08" stroke-width=".8"/>
<rect x="172.9" y="14" width="3.2" height="3.1" fill="#fff"/>
<text x="183.8" y="15.3" font-size="12.6" letter-spacing="-.6" fill="#000" stroke="#000" stroke-width=".15">自动交易</text>
<rect x="238" y="0" width="1" height="24" fill="#a0a0a0"/><rect x="239" y="0" width="1" height="24" fill="#fff"/>
<rect x="242" y="2" width="3" height="1" fill="#a8a8a8"/>
<rect x="242" y="4" width="3" height="1" fill="#a8a8a8"/>
<rect x="242" y="6" width="3" height="1" fill="#a8a8a8"/>
<rect x="242" y="8" width="3" height="1" fill="#a8a8a8"/>
<rect x="242" y="10" width="3" height="1" fill="#a8a8a8"/>
<rect x="242" y="12" width="3" height="1" fill="#a8a8a8"/>
<rect x="242" y="14" width="3" height="1" fill="#a8a8a8"/>
<rect x="242" y="16" width="3" height="1" fill="#a8a8a8"/>
<rect x="242" y="18" width="3" height="1" fill="#a8a8a8"/>
<rect x="242" y="20" width="3" height="1" fill="#a8a8a8"/>
<g stroke="#555" stroke-width="1" fill="none" shape-rendering="crispEdges"><line x1="256.5" y1="6" x2="256.5" y2="20"/><line x1="254" y1="17.5" x2="267" y2="17.5"/></g>
<polygon points="254.5,8.5 256.5,5.5 258.5,8.5" fill="#555"/>
<polygon points="265,15.5 268,17.5 265,19.5" fill="#555"/>
<g stroke="#1f8a1f" stroke-width="1.4" fill="none"><path d="M262.5,7.5 v8"/><path d="M262.5,8.5 h2.5"/><path d="M260,14.5 h2.5"/></g>
<rect x="277" y="1" width="24" height="21" fill="url(#chk)"/>
<rect x="276" y="0" width="25" height="1" fill="#a0a0a0"/>
<rect x="276" y="0" width="1" height="22" fill="#a0a0a0"/>
<rect x="301" y="0" width="1" height="23" fill="#fff"/>
<rect x="275" y="22" width="27" height="1" fill="#fff"/>
<g stroke="#555" stroke-width="1" fill="none" shape-rendering="crispEdges"><line x1="284.5" y1="6" x2="284.5" y2="20"/><line x1="282" y1="17.5" x2="295" y2="17.5"/></g>
<polygon points="282.5,8.5 284.5,5.5 286.5,8.5" fill="#555"/>
<polygon points="293,15.5 296,17.5 293,19.5" fill="#555"/>
<rect x="290" y="4" width="1.4" height="12" fill="#1f8a1f"/>
<rect x="288.5" y="6.5" width="4.5" height="7" fill="#4fe04f" stroke="#1f8a1f" stroke-width="1"/>
<g stroke="#555" stroke-width="1" fill="none" shape-rendering="crispEdges"><line x1="312.5" y1="6" x2="312.5" y2="20"/><line x1="310" y1="17.5" x2="323" y2="17.5"/></g>
<polygon points="310.5,8.5 312.5,5.5 314.5,8.5" fill="#555"/>
<polygon points="321,15.5 324,17.5 321,19.5" fill="#555"/>
<path d="M311.5,14.5 q5,-8 7,-4.5 q2,2.5 4,3" stroke="#2a962a" stroke-width="1.3" fill="none"/>
<rect x="333" y="1" width="1" height="21" fill="#a0a0a0"/>
<line x1="351.5" y1="13.6" x2="356.79999999999995" y2="18.6" stroke="#b08410" stroke-width="3.2"/>
<line x1="351.9" y1="13.9" x2="356.5" y2="18.2" stroke="#f0d648" stroke-width="1.5"/>
<circle cx="347.9" cy="9.9" r="5.4" fill="#d6eefb" stroke="#2f7cc6" stroke-width="1.2"/>
<circle cx="346.9" cy="8.6" r="3.2" fill="#eef9ff" opacity=".7"/>
<rect x="344.7" y="8.9" width="6.4" height="2" fill="#3a86b2"/>
<rect x="346.9" y="6.7" width="2" height="6.4" fill="#3a86b2"/>
<line x1="379.6" y1="13.6" x2="384.9" y2="18.6" stroke="#b08410" stroke-width="3.2"/>
<line x1="380" y1="13.9" x2="384.6" y2="18.2" stroke="#f0d648" stroke-width="1.5"/>
<circle cx="376" cy="9.9" r="5.4" fill="#d6eefb" stroke="#2f7cc6" stroke-width="1.2"/>
<circle cx="375" cy="8.6" r="3.2" fill="#eef9ff" opacity=".7"/>
<rect x="372.8" y="8.9" width="6.4" height="2" fill="#3a86b2"/>
<rect x="398" y="4" width="8" height="8" fill="#3aa42a"/>
<rect x="398" y="4" width="8" height="2.4" fill="#2a8c1c"/>
<rect x="399" y="4.9" width="1" height="1" fill="#a6e09a"/>
<rect x="399" y="7.2" width="6" height="4.2" fill="#fff"/>
<rect x="400.2" y="10.3" width="3.6" height="1.2" fill="#3aa42a"/>
<rect x="400" y="8.2" width="4" height="1" fill="#a6e09a"/>
<rect x="406" y="4" width="8" height="8" fill="#2a5cda"/>
<rect x="406" y="4" width="8" height="2.4" fill="#163fb8"/>
<rect x="407" y="4.9" width="1" height="1" fill="#a8bcf4"/>
<rect x="407" y="7.2" width="6" height="4.2" fill="#fff"/>
<rect x="408.2" y="10.3" width="3.6" height="1.2" fill="#2a5cda"/>
<rect x="408" y="8.2" width="4" height="1" fill="#a8bcf4"/>
<rect x="398" y="12" width="8" height="8" fill="#2a5cda"/>
<rect x="398" y="12" width="8" height="2.4" fill="#163fb8"/>
<rect x="399" y="12.9" width="1" height="1" fill="#a8bcf4"/>
<rect x="399" y="15.2" width="6" height="4.2" fill="#fff"/>
<rect x="400.2" y="18.3" width="3.6" height="1.2" fill="#2a5cda"/>
<rect x="400" y="16.2" width="4" height="1" fill="#a8bcf4"/>
<rect x="406" y="12" width="8" height="8" fill="#3aa42a"/>
<rect x="406" y="12" width="8" height="2.4" fill="#2a8c1c"/>
<rect x="407" y="12.9" width="1" height="1" fill="#a6e09a"/>
<rect x="407" y="15.2" width="6" height="4.2" fill="#fff"/>
<rect x="408.2" y="18.3" width="3.6" height="1.2" fill="#3aa42a"/>
<rect x="408" y="16.2" width="4" height="1" fill="#a6e09a"/>
<rect x="423" y="1" width="1" height="21" fill="#a0a0a0"/>
<rect x="429" y="1" width="24" height="21" fill="url(#chk)"/>
<rect x="428" y="0" width="25" height="1" fill="#a0a0a0"/>
<rect x="428" y="0" width="1" height="22" fill="#a0a0a0"/>
<rect x="453" y="0" width="1" height="23" fill="#fff"/>
<rect x="427" y="22" width="27" height="1" fill="#fff"/>
<g stroke="#555" stroke-width="1" fill="none" shape-rendering="crispEdges"><line x1="436.5" y1="6" x2="436.5" y2="20"/><line x1="434" y1="17.5" x2="447" y2="17.5"/></g>
<polygon points="434.5,8.5 436.5,5.5 438.5,8.5" fill="#555"/>
<polygon points="445,15.5 448,17.5 445,19.5" fill="#555"/>
<polygon points="441.5,8 445.5,11.5 441.5,15" fill="#5fdc5f" stroke="#1f8a1f" stroke-width="1"/>
<rect x="457" y="1" width="24" height="21" fill="url(#chk)"/>
<rect x="456" y="0" width="25" height="1" fill="#a0a0a0"/>
<rect x="456" y="0" width="1" height="22" fill="#a0a0a0"/>
<rect x="481" y="0" width="1" height="23" fill="#fff"/>
<rect x="455" y="22" width="27" height="1" fill="#fff"/>
<g stroke="#555" stroke-width="1" fill="none" shape-rendering="crispEdges"><line x1="464.5" y1="6" x2="464.5" y2="20"/><line x1="462" y1="17.5" x2="475" y2="17.5"/></g>
<polygon points="462.5,8.5 464.5,5.5 466.5,8.5" fill="#555"/>
<polygon points="473,15.5 476,17.5 473,19.5" fill="#555"/>
<rect x="470" y="6" width="1.3" height="10" fill="#1d6fb0"/>
<polygon points="471.8,11.5 475,9 475,14" fill="#e05a10"/>
<rect x="474" y="11" width="3" height="1.2" fill="#e05a10"/>
<rect x="485" y="1" width="1" height="21" fill="#a0a0a0"/>
<path d="M496.5,4.6 h7 l3.3,3.3 v8.3 a1,1 0 0 1 -1,1 h-9.3 a1,1 0 0 1 -1,-1 v-10.6 a1,1 0 0 1 1,-1 z" fill="#fff" stroke="#5c5c5c" stroke-width="1.1"/>
<path d="M503.3,4.8 v3.3 h3.3" fill="#ededed" stroke="#5c5c5c" stroke-width=".9"/>
<text x="497.2" y="14.2" font-size="10.5" font-style="italic" font-family="Liberation Serif,serif" fill="#4a3a1a">f</text>
<path d="M503,10 h4 v4 h4 v4 h-4 v4 h-4 v-4 h-4 v-4 h4 z" fill="#087a0c"/>
<path d="M504,11 h2 v4 h4 v2 h-4 v4 h-2 v-4 h-4 v-2 h4 z" fill="#1fe03c"/>
<path d="M504,11 h1 v4.6 h-5 v-.6 h4 z" fill="#8af5a0" opacity=".85"/>
<polygon points="517,11 522,11 519.5,13.8" fill="#000" stroke="#fff" stroke-width=".6" paint-order="stroke"/>
<defs><linearGradient id="clk" x1="0.15" y1="0.1" x2="0.85" y2="0.95"><stop offset="0" stop-color="#49a6f6"/><stop offset=".5" stop-color="#1670d8"/><stop offset="1" stop-color="#083a96"/></linearGradient></defs>
<circle cx="541" cy="11.7" r="6.9" fill="#f6f9fe" stroke="url(#clk)" stroke-width="2.5"/>
<circle cx="541.00" cy="7.20" r=".45" fill="#8a8a8a"/>
<circle cx="543.25" cy="7.80" r=".45" fill="#8a8a8a"/>
<circle cx="544.90" cy="9.45" r=".45" fill="#8a8a8a"/>
<circle cx="545.50" cy="11.70" r=".45" fill="#8a8a8a"/>
<circle cx="544.90" cy="13.95" r=".45" fill="#8a8a8a"/>
<circle cx="543.25" cy="15.60" r=".45" fill="#8a8a8a"/>
<circle cx="541.00" cy="16.20" r=".45" fill="#8a8a8a"/>
<circle cx="538.75" cy="15.60" r=".45" fill="#8a8a8a"/>
<circle cx="537.10" cy="13.95" r=".45" fill="#8a8a8a"/>
<circle cx="536.50" cy="11.70" r=".45" fill="#8a8a8a"/>
<circle cx="537.10" cy="9.45" r=".45" fill="#8a8a8a"/>
<circle cx="538.75" cy="7.80" r=".45" fill="#8a8a8a"/>
<path d="M540.6,8 L541,12.2 L544.2,12.6" stroke="#1a1a1a" stroke-width="1.3" fill="none" stroke-linejoin="round"/>
<polygon points="556,11 561,11 558.5,13.8" fill="#000" stroke="#fff" stroke-width=".6" paint-order="stroke"/>
<defs><linearGradient id="tplh" x1="0" y1="0" x2="0" y2="1"><stop offset="0" stop-color="#3a78c6"/><stop offset="1" stop-color="#9cc4f4"/></linearGradient></defs>
<rect x="572.5" y="5.2" width="15" height="13.4" rx=".8" fill="#fff" stroke="#2f6cba" stroke-width="1"/>
<rect x="573" y="5.7" width="14" height="2.3" fill="url(#tplh)"/>
<rect x="573.6" y="6.2" width="5" height=".8" fill="#e8f4ff"/>
<rect x="573" y="12.8" width="14" height=".9" fill="#4a82c8"/>
<rect x="572.4" y="17.8" width="15.2" height="1.3" fill="#2a62b0"/>
<polyline points="574.2,11.5 576.7,11.5 577.7,10.4 579.2,10.4 580.2,9.3 580.9,9.3 581.9,10.4 583.7,10.4 584.6,9.3 585.9,9.3" stroke="#9a2a08" stroke-width="1.1" fill="none"/>
<polyline points="575.2,16.4 576.7,16.4 577.7,15.5 578.7,15.5 579.7,16.4 580.9,16.4 581.9,15.2 582.7,14.4 583.7,14.4 584.6,15.5 585.9,16.7" stroke="#0a8a2a" stroke-width="1.1" fill="none"/>
<polygon points="595,11 600,11 597.5,13.8" fill="#000" stroke="#fff" stroke-width=".6" paint-order="stroke"/>
<rect x="606" y="0" width="1" height="24" fill="#a0a0a0"/><rect x="607" y="0" width="1" height="24" fill="#fff"/>
<rect x="610" y="2" width="3" height="1" fill="#a8a8a8"/>
<rect x="610" y="4" width="3" height="1" fill="#a8a8a8"/>
<rect x="610" y="6" width="3" height="1" fill="#a8a8a8"/>
<rect x="610" y="8" width="3" height="1" fill="#a8a8a8"/>
<rect x="610" y="10" width="3" height="1" fill="#a8a8a8"/>
<rect x="610" y="12" width="3" height="1" fill="#a8a8a8"/>
<rect x="610" y="14" width="3" height="1" fill="#a8a8a8"/>
<rect x="610" y="16" width="3" height="1" fill="#a8a8a8"/>
<rect x="610" y="18" width="3" height="1" fill="#a8a8a8"/>
<rect x="610" y="20" width="3" height="1" fill="#a8a8a8"/>
<rect x="617" y="1" width="24" height="21" fill="url(#chk)"/>
<rect x="616" y="0" width="25" height="1" fill="#a0a0a0"/>
<rect x="616" y="0" width="1" height="22" fill="#a0a0a0"/>
<rect x="641" y="0" width="1" height="23" fill="#fff"/>
<rect x="615" y="22" width="27" height="1" fill="#fff"/>
<path d="M624.2,5 L624.2,16 L626.5,13.8 L629.1,19.2 L631,18.3 L628.5,13 L632.2,12.5 Z" fill="#505050"/>
<g fill="#4a4a4a" shape-rendering="crispEdges"><rect x="656" y="5" width="1" height="6"/><rect x="656" y="14" width="1" height="6"/><rect x="649" y="12" width="6" height="1"/><rect x="658" y="12" width="6" height="1"/></g>
<rect x="656" y="12" width="1" height="1" fill="#888"/>
<rect x="673" y="1" width="1" height="21" fill="#a0a0a0"/>
<rect x="690" y="6" width="1" height="13" fill="#4a4a4a"/>
<rect x="713" y="12" width="12" height="1" fill="#4a4a4a"/>
<line x1="741" y1="19" x2="753" y2="7" stroke="#4a4a4a" stroke-width="1.1"/>
<g stroke="#4a4a4a" fill="none"><line x1="766.6" y1="13.5" x2="774.7" y2="6" stroke-width=".9" stroke-dasharray="1.6 .6"/><line x1="772.1" y1="18.6" x2="781.3" y2="10.3" stroke-width=".9" stroke-dasharray="1.6 .6"/><polyline points="768.2,17.6 769.2,11.7 771.7,15.3 772.8,10.3 775.6,14.2 775.6,8.5 779.4,11 778.5,4.3" stroke="#3a3a3a" stroke-width="1.2" stroke-linejoin="round"/></g>
<text x="777.6" y="20.8" font-size="7" font-weight="bold" fill="#333">E</text>
<rect x="796" y="5" width="1" height="1" fill="#4a4a4a"/>
<rect x="798" y="5" width="1" height="1" fill="#4a4a4a"/>
<rect x="800" y="5" width="1" height="1" fill="#4a4a4a"/>
<rect x="802" y="5" width="1" height="1" fill="#4a4a4a"/>
<rect x="804" y="5" width="1" height="1" fill="#4a4a4a"/>
<rect x="806" y="5" width="1" height="1" fill="#4a4a4a"/>
<rect x="808" y="5" width="1" height="1" fill="#4a4a4a"/>
<rect x="796" y="8" width="1" height="1" fill="#4a4a4a"/>
<rect x="798" y="8" width="1" height="1" fill="#4a4a4a"/>
<rect x="800" y="8" width="1" height="1" fill="#4a4a4a"/>
<rect x="802" y="8" width="1" height="1" fill="#4a4a4a"/>
<rect x="804" y="8" width="1" height="1" fill="#4a4a4a"/>
<rect x="806" y="8" width="1" height="1" fill="#4a4a4a"/>
<rect x="808" y="8" width="1" height="1" fill="#4a4a4a"/>
<rect x="796" y="12" width="1" height="1" fill="#4a4a4a"/>
<rect x="798" y="12" width="1" height="1" fill="#4a4a4a"/>
<rect x="800" y="12" width="1" height="1" fill="#4a4a4a"/>
<rect x="802" y="12" width="1" height="1" fill="#4a4a4a"/>
<rect x="804" y="12" width="1" height="1" fill="#4a4a4a"/>
<rect x="806" y="12" width="1" height="1" fill="#4a4a4a"/>
<rect x="808" y="12" width="1" height="1" fill="#4a4a4a"/>
<rect x="796" y="16" width="1" height="1" fill="#4a4a4a"/>
<rect x="798" y="16" width="1" height="1" fill="#4a4a4a"/>
<rect x="800" y="16" width="1" height="1" fill="#4a4a4a"/>
<rect x="802" y="16" width="1" height="1" fill="#4a4a4a"/>
<rect x="804" y="16" width="1" height="1" fill="#4a4a4a"/>
<text x="805.5" y="21" font-size="7" font-weight="bold" fill="#333">F</text>
<text x="826.6" y="16.9" font-size="12" fill="#555" stroke="#555" stroke-width=".55">A</text>
<rect x="856" y="6" width="1" height="1" fill="#4a4a4a"/>
<rect x="858" y="6" width="1" height="1" fill="#4a4a4a"/>
<rect x="860" y="6" width="1" height="1" fill="#4a4a4a"/>
<rect x="862" y="6" width="1" height="1" fill="#4a4a4a"/>
<rect x="864" y="6" width="1" height="1" fill="#4a4a4a"/>
<rect x="853" y="18" width="1" height="1" fill="#4a4a4a"/>
<rect x="855" y="18" width="1" height="1" fill="#4a4a4a"/>
<rect x="857" y="18" width="1" height="1" fill="#4a4a4a"/>
<rect x="859" y="18" width="1" height="1" fill="#4a4a4a"/>
<rect x="861" y="18" width="1" height="1" fill="#4a4a4a"/>
<rect x="863" y="18" width="1" height="1" fill="#4a4a4a"/>
<rect x="853" y="8" width="1" height="1" fill="#4a4a4a"/>
<rect x="853" y="10" width="1" height="1" fill="#4a4a4a"/>
<rect x="853" y="12" width="1" height="1" fill="#4a4a4a"/>
<rect x="853" y="14" width="1" height="1" fill="#4a4a4a"/>
<rect x="853" y="16" width="1" height="1" fill="#4a4a4a"/>
<rect x="864" y="6" width="1" height="1" fill="#4a4a4a"/>
<rect x="864" y="8" width="1" height="1" fill="#4a4a4a"/>
<rect x="864" y="10" width="1" height="1" fill="#4a4a4a"/>
<rect x="864" y="12" width="1" height="1" fill="#4a4a4a"/>
<rect x="864" y="14" width="1" height="1" fill="#4a4a4a"/>
<rect x="864" y="16" width="1" height="1" fill="#4a4a4a"/>
<rect x="852" y="5" width="2" height="1" fill="#4a4a4a"/><rect x="853" y="6" width="2" height="1" fill="#4a4a4a"/>
<text transform="translate(859.05,16.9) scale(1.12,1)" font-size="11" fill="#555" stroke="#555" stroke-width=".45" text-anchor="middle">T</text>
<polygon points="883.3,5.8 887,9.6 885.2,9.6 885.2,10.8 881.4,10.8 881.4,9.6 879.8,9.6" fill="#555"/>
<polygon points="890.4,19 886.8,15.2 888.6,15.2 888.6,14.1 892.3,14.1 892.3,15.2 894,15.2" fill="#555"/>
<path d="M882.3,13.3 l2.2,2.1 l4.4,-5.3" stroke="#555" stroke-width="1.3" fill="none"/>
<polygon points="901,11 906,11 903.5,13.8" fill="#000" stroke="#fff" stroke-width=".6" paint-order="stroke"/>
<rect x="912" y="0" width="1" height="24" fill="#a0a0a0"/><rect x="913" y="0" width="1" height="24" fill="#fff"/>
<rect x="916" y="2" width="3" height="1" fill="#a8a8a8"/>
<rect x="916" y="4" width="3" height="1" fill="#a8a8a8"/>
<rect x="916" y="6" width="3" height="1" fill="#a8a8a8"/>
<rect x="916" y="8" width="3" height="1" fill="#a8a8a8"/>
<rect x="916" y="10" width="3" height="1" fill="#a8a8a8"/>
<rect x="916" y="12" width="3" height="1" fill="#a8a8a8"/>
<rect x="916" y="14" width="3" height="1" fill="#a8a8a8"/>
<rect x="916" y="16" width="3" height="1" fill="#a8a8a8"/>
<rect x="916" y="18" width="3" height="1" fill="#a8a8a8"/>
<rect x="916" y="20" width="3" height="1" fill="#a8a8a8"/>
<rect x="1063" y="1" width="24" height="21" fill="url(#chk)"/>
<rect x="1062" y="0" width="25" height="1" fill="#a0a0a0"/>
<rect x="1062" y="0" width="1" height="22" fill="#a0a0a0"/>
<rect x="1087" y="0" width="1" height="23" fill="#fff"/>
<rect x="1061" y="22" width="27" height="1" fill="#fff"/>
<text x="927.3" y="16" font-size="9.7" fill="#444" stroke="#444" stroke-width=".15">M1</text>
<text x="955.3" y="16" font-size="9.7" fill="#444" stroke="#444" stroke-width=".15">M5</text>
<text x="981.3" y="16" font-size="9.7" fill="#444" stroke="#444" stroke-width=".15">M15</text>
<text x="1009.3" y="16" font-size="9.7" fill="#444" stroke="#444" stroke-width=".15">M30</text>
<text x="1040.24" y="16" font-size="9.7" fill="#444" stroke="#444" stroke-width=".15">H1</text>
<text x="1067.24" y="16" font-size="9.7" fill="#444" stroke="#444" stroke-width=".15">H4</text>
<text x="1096.15" y="16" font-size="9.7" fill="#444" stroke="#444" stroke-width=".15">D1</text>
<text x="1123.9" y="16" font-size="9.7" fill="#444" stroke="#444" stroke-width=".15">W1</text>
<text x="1150.3" y="16" font-size="9.7" fill="#444" stroke="#444" stroke-width=".15">MN</text>
<rect x="1173" y="0" width="1" height="24" fill="#a0a0a0"/><rect x="1174" y="0" width="1" height="24" fill="#fff"/>
<line x1="1641" y1="12.2" x2="1636" y2="17.2" stroke="#2a5fd0" stroke-width="2.2" stroke-linecap="round"/>
<circle cx="1643.6" cy="9.4" r="3.6" fill="#f4f6fa" stroke="#2a5fd0" stroke-width="1.3"/>
<path d="M1661,13 a4.5,4 0 0 1 4.5,-4 h3 a4.5,4 0 0 1 0,8 h-3.5 l-1.8,2.6 l-.2,-2.8 a4.3,4 0 0 1 -2,-3.8 z" fill="#e4e6ee" stroke="#a0a0a0" stroke-width="1"/>
<defs><linearGradient id="badge" x1="0" y1="0" x2="0" y2="1"><stop offset="0" stop-color="#ea5a3c"/><stop offset=".6" stop-color="#e0301a"/><stop offset="1" stop-color="#d4200e"/></linearGradient></defs>
<circle cx="1674.6" cy="9.2" r="8" fill="url(#badge)"/>
<text x="1674.6" y="14" font-size="13" fill="#fff" text-anchor="middle">1</text>
</g>
</svg>
</body>
</html>
